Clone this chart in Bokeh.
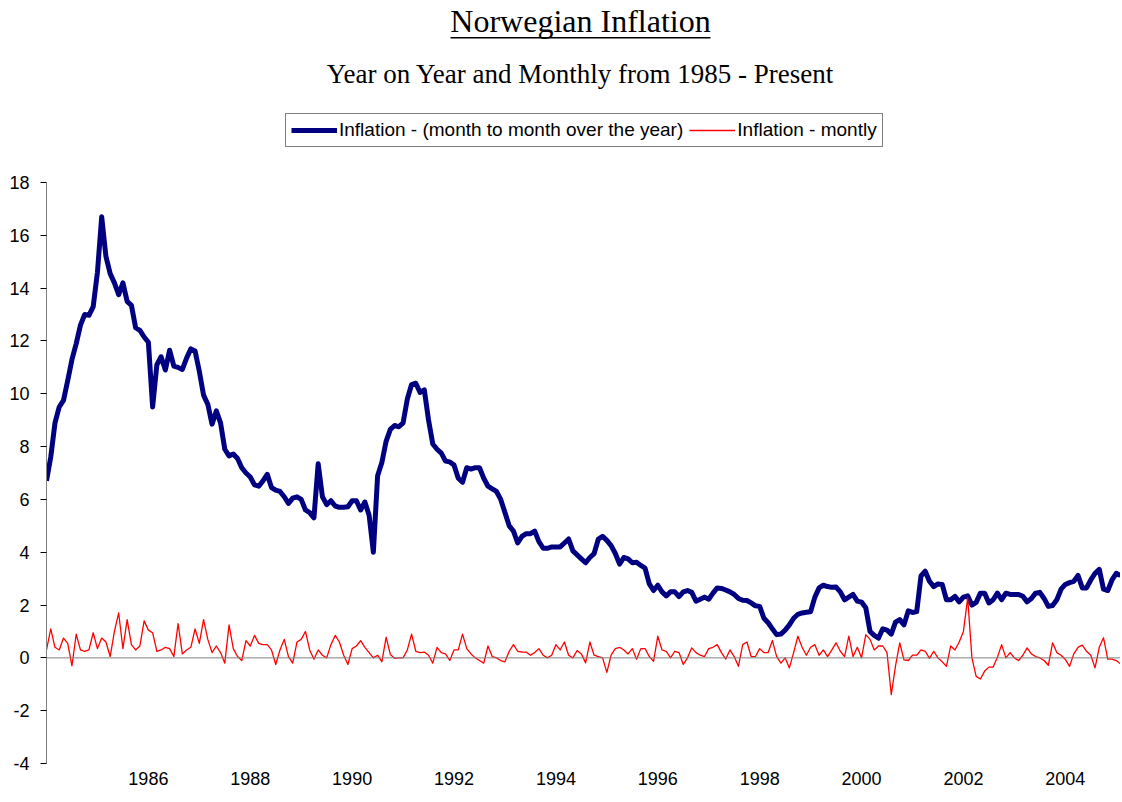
from bokeh.plotting import figure
from bokeh.models import (Range1d, FixedTicker, Span, Label, BoxAnnotation,
                          Legend, LegendItem, PrintfTickFormatter)
from bokeh.embed import file_html
from bokeh.resources import INLINE

START_YEAR = 1984
year_ticks = [1986, 1988, 1990, 1992, 1994, 1996, 1998, 2000, 2002, 2004]
y_ticks = [-4, -2, 0, 2, 4, 6, 8, 10, 12, 14, 16, 18]

title_text = "Norwegian Inflation"
subtitle_text = "Year on Year and Monthly from 1985 - Present"
label_yoy = "Inflation - (month to month over the year)"
label_mon = "Inflation - montly"

# Year-on-year inflation, monthly observations (%)
yoy = [
    6.7, 7.6, 8.9, 9.5, 9.75, 10.5, 11.3, 11.9, 12.6, 13.0,
    12.97, 13.3, 14.6, 16.7, 15.2, 14.55, 14.2, 13.75, 14.2, 13.5,
    13.35, 12.5, 12.4, 12.15, 11.95, 9.5, 11.1, 11.4, 10.9, 11.65,
    11.05, 11.0, 10.92, 11.35, 11.7, 11.62, 10.85, 9.95, 9.6, 8.85,
    9.35, 8.9, 7.9, 7.65, 7.72, 7.55, 7.2, 7.0, 6.85, 6.55,
    6.5, 6.7, 6.95, 6.45, 6.35, 6.3, 6.1, 5.85, 6.05, 6.1,
    6.0, 5.6, 5.5, 5.3, 7.35, 6.1, 5.8, 5.95, 5.75, 5.7,
    5.7, 5.72, 5.95, 5.95, 5.6, 5.9, 5.4, 4.0, 6.9, 7.4,
    8.2, 8.65, 8.8, 8.75, 8.9, 9.8, 10.35, 10.4, 10.05, 10.15,
    9.0, 8.1, 7.9, 7.75, 7.45, 7.42, 7.3, 6.8, 6.65, 7.2,
    7.15, 7.2, 7.2, 6.8, 6.5, 6.4, 6.3, 6.0, 5.5, 5.0,
    4.8, 4.35, 4.6, 4.7, 4.7, 4.8, 4.4, 4.15, 4.15, 4.2,
    4.2, 4.2, 4.35, 4.5, 4.05, 3.9, 3.75, 3.6, 3.8, 3.95,
    4.5, 4.6, 4.45, 4.25, 3.95, 3.55, 3.8, 3.75, 3.6, 3.62,
    3.5, 3.4, 2.8, 2.55, 2.75, 2.5, 2.35, 2.5, 2.5, 2.32,
    2.5, 2.55, 2.48, 2.15, 2.22, 2.3, 2.22, 2.45, 2.65, 2.63,
    2.57, 2.5, 2.4, 2.25, 2.18, 2.17, 2.08, 1.97, 1.95, 1.5,
    1.33, 1.1, 0.88, 0.9, 1.05, 1.25, 1.5, 1.65, 1.7, 1.73,
    1.75, 2.3, 2.65, 2.75, 2.7, 2.67, 2.68, 2.5, 2.2, 2.3,
    2.4, 2.15, 2.11, 1.9, 1.0, 0.85, 0.75, 1.1, 1.05, 0.9,
    1.35, 1.45, 1.25, 1.78, 1.72, 1.75, 3.1, 3.28, 2.9, 2.7,
    2.8, 2.78, 2.2, 2.2, 2.33, 2.12, 2.3, 2.35, 2.0, 2.1,
    2.45, 2.45, 2.08, 2.2, 2.45, 2.2, 2.45, 2.4, 2.4, 2.4,
    2.33, 2.12, 2.25, 2.45, 2.48, 2.25, 1.95, 1.98, 2.2, 2.6,
    2.78, 2.85, 2.9, 3.12, 2.65, 2.65, 2.95, 3.2, 3.35, 2.6,
    2.55, 2.95, 3.2, 3.12,
]

# Month-on-month inflation (%)
monthly = [
    0.3, 1.1, 0.4, 0.3, 0.75, 0.55, -0.3, 0.9, 0.3, 0.25,
    0.3, 0.95, 0.35, 0.75, 0.6, 0.05, 1.0, 1.7, 0.35, 1.45,
    0.5, 0.3, 0.45, 1.4, 1.05, 0.95, 0.25, 0.3, 0.4, 0.35,
    0.05, 1.3, 0.15, 0.3, 0.4, 1.1, 0.55, 1.45, 0.7, 0.2,
    0.45, 0.2, -0.2, 1.25, 0.35, 0.05, -0.1, 0.65, 0.45, 0.85,
    0.55, 0.5, 0.5, 0.3, -0.25, 0.3, 0.7, 0.05, -0.2, 0.6,
    0.7, 1.0, 0.3, -0.05, 0.3, 0.1, 0.0, 0.5, 0.85, 0.6,
    0.1, -0.25, 0.35, 0.45, 0.65, 0.4, 0.2, 0.0, 0.1, -0.15,
    0.78, 0.13, -0.02, 0.0, 0.0, 0.3, 0.9, 0.25, 0.2, 0.22,
    0.1, -0.2, 0.4, 0.2, 0.15, -0.1, 0.3, 0.3, 0.9, 0.35,
    0.15, 0.0, -0.1, -0.2, 0.45, 0.05, 0.0, -0.1, -0.15, 0.25,
    0.5, 0.25, 0.22, 0.22, 0.1, 0.2, 0.35, 0.1, 0.0, 0.1,
    0.5, 0.3, 0.6, 0.1, 0.0, 0.28, 0.15, -0.19, 0.6, 0.1,
    0.05, 0.0, -0.55, 0.1, 0.35, 0.4, 0.3, 0.15, 0.35, -0.05,
    0.35, 0.35, 0.05, -0.13, 0.82, 0.3, 0.25, 0.0, 0.25, 0.2,
    -0.25, 0.0, 0.38, 0.2, 0.1, 0.05, 0.35, 0.4, 0.5, 0.2,
    -0.05, 0.3, 0.05, -0.32, 0.5, 0.6, 0.05, 0.05, 0.35, 0.2,
    0.2, 0.66, 0.05, -0.2, 0.0, -0.38, 0.2, 0.82, 0.4, 0.1,
    0.4, 0.5, 0.1, 0.3, 0.05, 0.3, 0.57, 0.25, 0.05, 0.82,
    0.05, 0.4, 0.0, 0.88, 0.7, 0.3, 0.45, 0.45, 0.2, -1.39,
    -0.3, 0.57, -0.08, -0.1, 0.1, 0.1, 0.3, 0.25, -0.02, 0.25,
    0.0, -0.15, -0.32, 0.45, 0.3, 0.6, 1.0, 2.27, 0.0, -0.7,
    -0.8, -0.5, -0.35, -0.35, 0.02, 0.5, 0.0, 0.2, 0.0, -0.1,
    0.1, 0.38, 0.15, 0.05, 0.0, -0.1, -0.28, 0.57, 0.2, 0.1,
    -0.06, -0.32, 0.15, 0.4, 0.48, 0.25, 0.1, -0.38, 0.4, 0.76,
    -0.05, -0.05, -0.1, -0.23,
]

x_yoy = [START_YEAR + i / 12 for i in range(len(yoy))]
x_mon = [START_YEAR + i / 12 for i in range(len(monthly))]
x_end = START_YEAR + (max(len(yoy), len(monthly)) - 1) / 12

SANS = "Liberation Sans"
SERIF = "Liberation Serif"

# Frame spans the whole upper area so that titles and legend are drawn inside it;
# the y axis itself is bounded to [-4, 18].
Y_MIN, Y_MAX = -4, 18
FRAME_BOTTOM_PX = 763
AXIS_TOP_PX = 182
px_per_unit = (FRAME_BOTTOM_PX - AXIS_TOP_PX) / (Y_MAX - Y_MIN)
y_top = Y_MAX + AXIS_TOP_PX / px_per_unit

p = figure(width=1120, height=800, output_backend="svg", toolbar_location=None,
           title=None,
           x_range=Range1d(START_YEAR, x_end), y_range=Range1d(Y_MIN, y_top),
           min_border_left=46, min_border_right=0, min_border_top=0,
           min_border_bottom=800 - FRAME_BOTTOM_PX, background_fill_color="white",
           border_fill_color="white")
p.outline_line_color = None
p.grid.visible = False

# y axis
ya = p.yaxis[0]
ya.ticker = FixedTicker(ticks=y_ticks)
ya.bounds = (Y_MIN, Y_MAX)
ya.formatter = PrintfTickFormatter(format="%d")
ya.axis_line_color = "#808080"
ya.axis_line_width = 1
ya.major_tick_line_color = "black"
ya.major_tick_out = 6
ya.major_tick_in = 0
ya.minor_tick_line_color = None
ya.major_label_text_font = SANS
ya.major_label_text_font_size = "18px"
ya.major_label_text_color = "black"
ya.major_label_standoff = 11

# x axis (labels only)
xa = p.xaxis[0]
xa.ticker = FixedTicker(ticks=year_ticks)
xa.formatter = PrintfTickFormatter(format="%d")
xa.axis_line_color = None
xa.major_tick_line_color = None
xa.minor_tick_line_color = None
xa.major_label_text_font = SANS
xa.major_label_text_font_size = "18px"
xa.major_label_text_color = "black"
xa.major_label_standoff = 2

# zero (category) axis line
p.add_layout(Span(location=0, dimension="width", line_color="#808080", line_width=1))

r_yoy = p.line(x_yoy, yoy, line_color="#000080", line_width=5, line_join="round")
r_mon = p.line(x_mon, monthly, line_color="#FF0000", line_width=1.3, line_join="round")

# titles (screen units relative to plot frame, origin bottom-left)
p.add_layout(Label(x=534, y=743, x_units="screen", y_units="screen", text=title_text,
                   text_font=SERIF, text_font_size="32px", text_align="center",
                   text_baseline="middle", text_color="black"))
p.add_layout(BoxAnnotation(left=404, right=664, bottom=725, top=726.5,
                           left_units="screen", right_units="screen",
                           bottom_units="screen", top_units="screen",
                           fill_color="black", fill_alpha=1, line_color=None))
p.add_layout(Label(x=534, y=690, x_units="screen", y_units="screen", text=subtitle_text,
                   text_font=SERIF, text_font_size="27px", text_align="center",
                   text_baseline="middle", text_color="black"))

legend = Legend(items=[LegendItem(label=label_yoy, renderers=[r_yoy]),
                       LegendItem(label=label_mon, renderers=[r_mon])],
                orientation="horizontal", location=(239, 616),
                label_text_font=SANS, label_text_font_size="19px",
                label_text_color="black", glyph_width=46, glyph_height=18,
                label_standoff=2, spacing=6, padding=5, margin=0,
                label_height=18, border_line_color="black", border_line_width=1,
                background_fill_color="white", background_fill_alpha=1)
p.add_layout(legend)

open("out.html", "w").write(file_html(p, INLINE))
